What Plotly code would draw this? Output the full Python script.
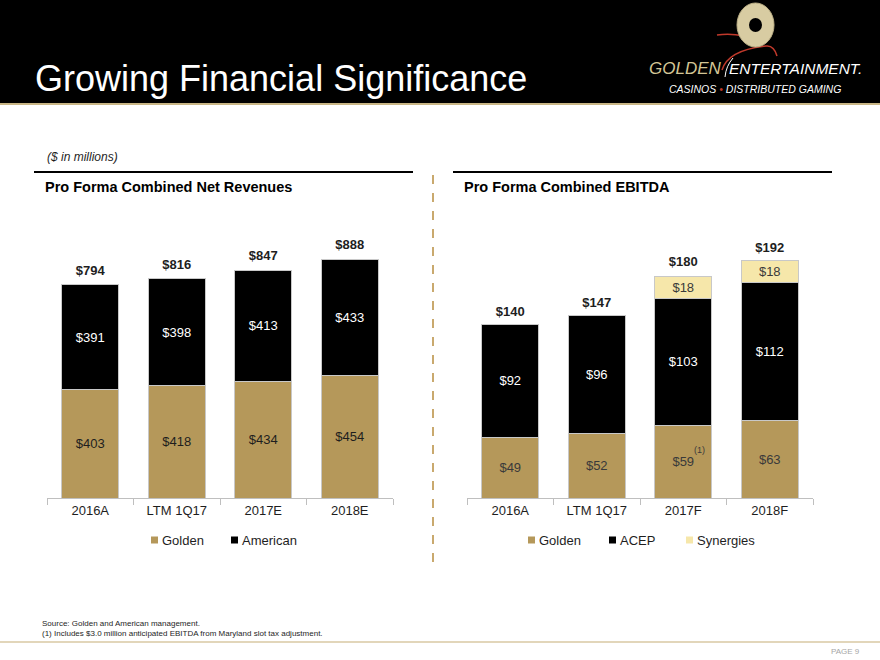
import plotly.graph_objects as go

# ---------------- data ----------------
rev_categories = ["2016A", "LTM 1Q17", "2017E", "2018E"]
rev_golden = [403, 418, 434, 454]
rev_american = [391, 398, 413, 433]
rev_total = [794, 816, 847, 888]

ebitda_categories = ["2016A", "LTM 1Q17", "2017F", "2018F"]
ebitda_golden = [49, 52, 59, 63]
ebitda_acep = [92, 96, 103, 112]
ebitda_synergies = [None, None, 18, 18]
ebitda_total = [140, 147, 180, 192]

# ---------------- style ----------------
W, H = 880, 660
FONT = "Arial, Liberation Sans, sans-serif"
GOLD = "#B5985A"
BLACK = "#000000"
SYN = "#F6E7AA"
EDGE = "#C8C8C8"
TXT = "#1E1E1E"


def fx(px):
    return px / W


def fy(py):
    return 1 - py / H


fig = go.Figure()

# Left chart: revenues
fig.add_trace(go.Bar(x=rev_categories, y=rev_golden, name="Golden", marker=dict(color=GOLD, line=dict(color=EDGE, width=1)),
                     text=[f"${v}" for v in rev_golden], textposition="inside", insidetextanchor="middle",
                     textangle=0, constraintext="none", textfont=dict(family=FONT, size=13, color=TXT),
                     xaxis="x", yaxis="y", showlegend=False, hoverinfo="skip"))
fig.add_trace(go.Bar(x=rev_categories, y=rev_american, name="American", marker=dict(color=BLACK, line=dict(color=EDGE, width=1)),
                     text=[f"${v}" for v in rev_american], textposition="inside", insidetextanchor="middle",
                     textangle=0, constraintext="none", textfont=dict(family=FONT, size=13, color="white"),
                     xaxis="x", yaxis="y", showlegend=False, hoverinfo="skip"))
fig.add_trace(go.Scatter(x=rev_categories, y=rev_total, mode="markers+text", text=[f"<b>${v}</b>" for v in rev_total],
                         marker=dict(size=9, opacity=0),
                         textposition="top center", textfont=dict(family=FONT, size=13, color=TXT),
                         cliponaxis=False, xaxis="x", yaxis="y", showlegend=False, hoverinfo="skip"))

# Right chart: EBITDA
fig.add_trace(go.Bar(x=ebitda_categories, y=ebitda_golden, name="Golden", marker=dict(color=GOLD, line=dict(color=EDGE, width=1)),
                     text=[f"${v}" for v in ebitda_golden], textposition="inside", insidetextanchor="middle",
                     textangle=0, constraintext="none", textfont=dict(family=FONT, size=13, color="#3A3A3A"),
                     xaxis="x2", yaxis="y2", showlegend=False, hoverinfo="skip"))
fig.add_trace(go.Bar(x=ebitda_categories, y=ebitda_acep, name="ACEP", marker=dict(color=BLACK, line=dict(color=EDGE, width=1)),
                     text=[f"${v}" for v in ebitda_acep], textposition="inside", insidetextanchor="middle",
                     textangle=0, constraintext="none", textfont=dict(family=FONT, size=13, color="white"),
                     xaxis="x2", yaxis="y2", showlegend=False, hoverinfo="skip"))
fig.add_trace(go.Bar(x=ebitda_categories, y=ebitda_synergies, name="Synergies", marker=dict(color=SYN, line=dict(color=EDGE, width=1)),
                     text=[f"${v}" if v else "" for v in ebitda_synergies], textposition="inside", insidetextanchor="middle",
                     textangle=0, constraintext="none", textfont=dict(family=FONT, size=13, color="#3A3A3A"),
                     xaxis="x2", yaxis="y2", showlegend=False, hoverinfo="skip"))
fig.add_trace(go.Scatter(x=ebitda_categories, y=ebitda_total, mode="markers+text", text=[f"<b>${v}</b>" for v in ebitda_total],
                         marker=dict(size=9, opacity=0),
                         textposition="top center", textfont=dict(family=FONT, size=13, color=TXT),
                         cliponaxis=False, xaxis="x2", yaxis="y2", showlegend=False, hoverinfo="skip"))

axis_common = dict(showline=True, linecolor="#BFBFBF", linewidth=1, ticks="outside", tickson="boundaries",
                   ticklen=6, tickcolor="#BFBFBF", tickfont=dict(family=FONT, size=13, color=TXT),
                   showgrid=False, zeroline=False, fixedrange=True)

fig.update_layout(
    width=W, height=H, margin=dict(l=0, r=0, t=0, b=0),
    paper_bgcolor="white", plot_bgcolor="rgba(0,0,0,0)",
    barmode="stack", bargap=0.345,
    showlegend=False,
    font=dict(family=FONT),
    xaxis=dict(domain=[fx(47), fx(393)], anchor="y", **axis_common),
    yaxis=dict(domain=[fy(498), fy(230)], range=[0, 268 / 0.269], visible=False, fixedrange=True),
    xaxis2=dict(domain=[fx(467), fx(813)], anchor="y2", **axis_common),
    yaxis2=dict(domain=[fy(498), fy(230)], range=[0, 268 / 1.232], visible=False, fixedrange=True),
)

shapes = []
annotations = []

# Header band
shapes.append(dict(type="rect", xref="paper", yref="paper", x0=0, x1=1, y0=fy(103), y1=1,
                   fillcolor="#000000", line=dict(width=0), layer="below"))
shapes.append(dict(type="rect", xref="paper", yref="paper", x0=0, x1=1, y0=fy(105), y1=fy(103),
                   fillcolor="#C9B685", line=dict(width=0)))
annotations.append(dict(text="Growing Financial Significance", xref="paper", yref="paper", x=fx(33), y=fy(79),
                        xanchor="left", yanchor="middle", showarrow=False,
                        font=dict(family=FONT, size=36, color="white")))

# Logo
red = "#C0392B"
shapes.append(dict(type="path", xref="paper", yref="paper",
                   path=f"M {fx(717)},{fy(35)} Q {fx(730)},{fy(33)} {fx(744)},{fy(36)}",
                   line=dict(color=red, width=1.5)))
shapes.append(dict(type="path", xref="paper", yref="paper",
                   path=f"M {fx(722)},{fy(70)} Q {fx(728)},{fy(50)} {fx(766)},{fy(46)} Q {fx(774)},{fy(45)} {fx(777)},{fy(56)}",
                   line=dict(color=red, width=1.5)))
shapes.append(dict(type="circle", xref="paper", yref="paper", x0=fx(737), x1=fx(774), y0=fy(47), y1=fy(3),
                   fillcolor="#D8CCA2", line=dict(color="#BFB288", width=1)))
shapes.append(dict(type="circle", xref="paper", yref="paper", x0=fx(749), x1=fx(762), y0=fy(32), y1=fy(18),
                   fillcolor="#000000", line=dict(width=0)))
shapes.append(dict(type="path", xref="paper", yref="paper",
                   path=f"M {fx(725)},{fy(77)} Q {fx(726)},{fy(66)} {fx(733)},{fy(58)}",
                   line=dict(color="white", width=1)))
annotations.append(dict(text="<i>GOLDEN</i>", xref="paper", yref="paper", x=fx(647), y=fy(68),
                        xanchor="left", yanchor="middle", showarrow=False,
                        font=dict(family=FONT, size=17, color="#D3C595")))
annotations.append(dict(text="<i>ENTERTAINMENT.</i>", xref="paper", yref="paper", x=fx(727), y=fy(68),
                        xanchor="left", yanchor="middle", showarrow=False,
                        font=dict(family=FONT, size=15.5, color="white")))
annotations.append(dict(text="<i>CASINOS <span style='color:#C0392B'>•</span> DISTRIBUTED GAMING</i>",
                        xref="paper", yref="paper", x=fx(667), y=fy(89),
                        xanchor="left", yanchor="middle", showarrow=False,
                        font=dict(family=FONT, size=10.5, color="white")))

# Subtitle
annotations.append(dict(text="<i>($ in millions)</i>", xref="paper", yref="paper", x=fx(45), y=fy(157),
                        xanchor="left", yanchor="middle", showarrow=False,
                        font=dict(family=FONT, size=12, color=TXT)))

# Section rules and titles
shapes.append(dict(type="line", xref="paper", yref="paper", x0=fx(34), x1=fx(413), y0=fy(172), y1=fy(172),
                   line=dict(color="black", width=2)))
shapes.append(dict(type="line", xref="paper", yref="paper", x0=fx(453), x1=fx(832), y0=fy(172), y1=fy(172),
                   line=dict(color="black", width=2)))
annotations.append(dict(text="<b>Pro Forma Combined Net Revenues</b>", xref="paper", yref="paper", x=fx(43), y=fy(187),
                        xanchor="left", yanchor="middle", showarrow=False,
                        font=dict(family=FONT, size=14.5, color="black")))
annotations.append(dict(text="<b>Pro Forma Combined EBITDA</b>", xref="paper", yref="paper", x=fx(462), y=fy(187),
                        xanchor="left", yanchor="middle", showarrow=False,
                        font=dict(family=FONT, size=14.5, color="black")))

# Dashed divider
shapes.append(dict(type="line", xref="paper", yref="paper", x0=fx(433), x1=fx(433), y0=fy(175), y1=fy(567),
                   line=dict(color="#C9A96E", width=2, dash="dash")))


def legend_item(x_sq, y_c, color, label):
    shapes.append(dict(type="rect", xref="paper", yref="paper", x0=fx(x_sq), x1=fx(x_sq + 7),
                       y0=fy(y_c + 3.5), y1=fy(y_c - 3.5), fillcolor=color, line=dict(width=0)))
    annotations.append(dict(text=label, xref="paper", yref="paper", x=fx(x_sq + 9), y=fy(y_c),
                            xanchor="left", yanchor="middle", showarrow=False,
                            font=dict(family=FONT, size=13, color=TXT)))


legend_item(151, 540, GOLD, "Golden")
legend_item(231, 540, BLACK, "American")
legend_item(528, 540, GOLD, "Golden")
legend_item(609, 540, BLACK, "ACEP")
legend_item(686, 540, SYN, "Synergies")

# Footnote marker on 2017F Golden label
annotations.append(dict(text="(1)", xref="x2", yref="y2", x="2017F", y=ebitda_golden[2] / 2,
                        xshift=16, yshift=12, xanchor="center", yanchor="middle", showarrow=False,
                        font=dict(family=FONT, size=9, color="#3A3A3A")))

# Footer
annotations.append(dict(text="Source: Golden and American management.", xref="paper", yref="paper", x=fx(40), y=fy(623),
                        xanchor="left", yanchor="middle", showarrow=False,
                        font=dict(family=FONT, size=8, color=TXT)))
annotations.append(dict(text="(1) Includes $3.0 million anticipated EBITDA from Maryland slot tax adjustment.",
                        xref="paper", yref="paper", x=fx(40), y=fy(633),
                        xanchor="left", yanchor="middle", showarrow=False,
                        font=dict(family=FONT, size=8, color=TXT)))
shapes.append(dict(type="line", xref="paper", yref="paper", x0=0, x1=1, y0=fy(642), y1=fy(642),
                   line=dict(color="#D8C9A3", width=1.5)))
annotations.append(dict(text="PAGE 9", xref="paper", yref="paper", x=fx(862), y=fy(651),
                        xanchor="right", yanchor="middle", showarrow=False,
                        font=dict(family=FONT, size=8, color="#A6A6A6")))

fig.update_layout(shapes=shapes, annotations=annotations)

fig.write_html("out.html", config={"displayModeBar": False, "staticPlot": True},
               post_script="document.body.style.margin='0';document.body.style.overflow='hidden';")
